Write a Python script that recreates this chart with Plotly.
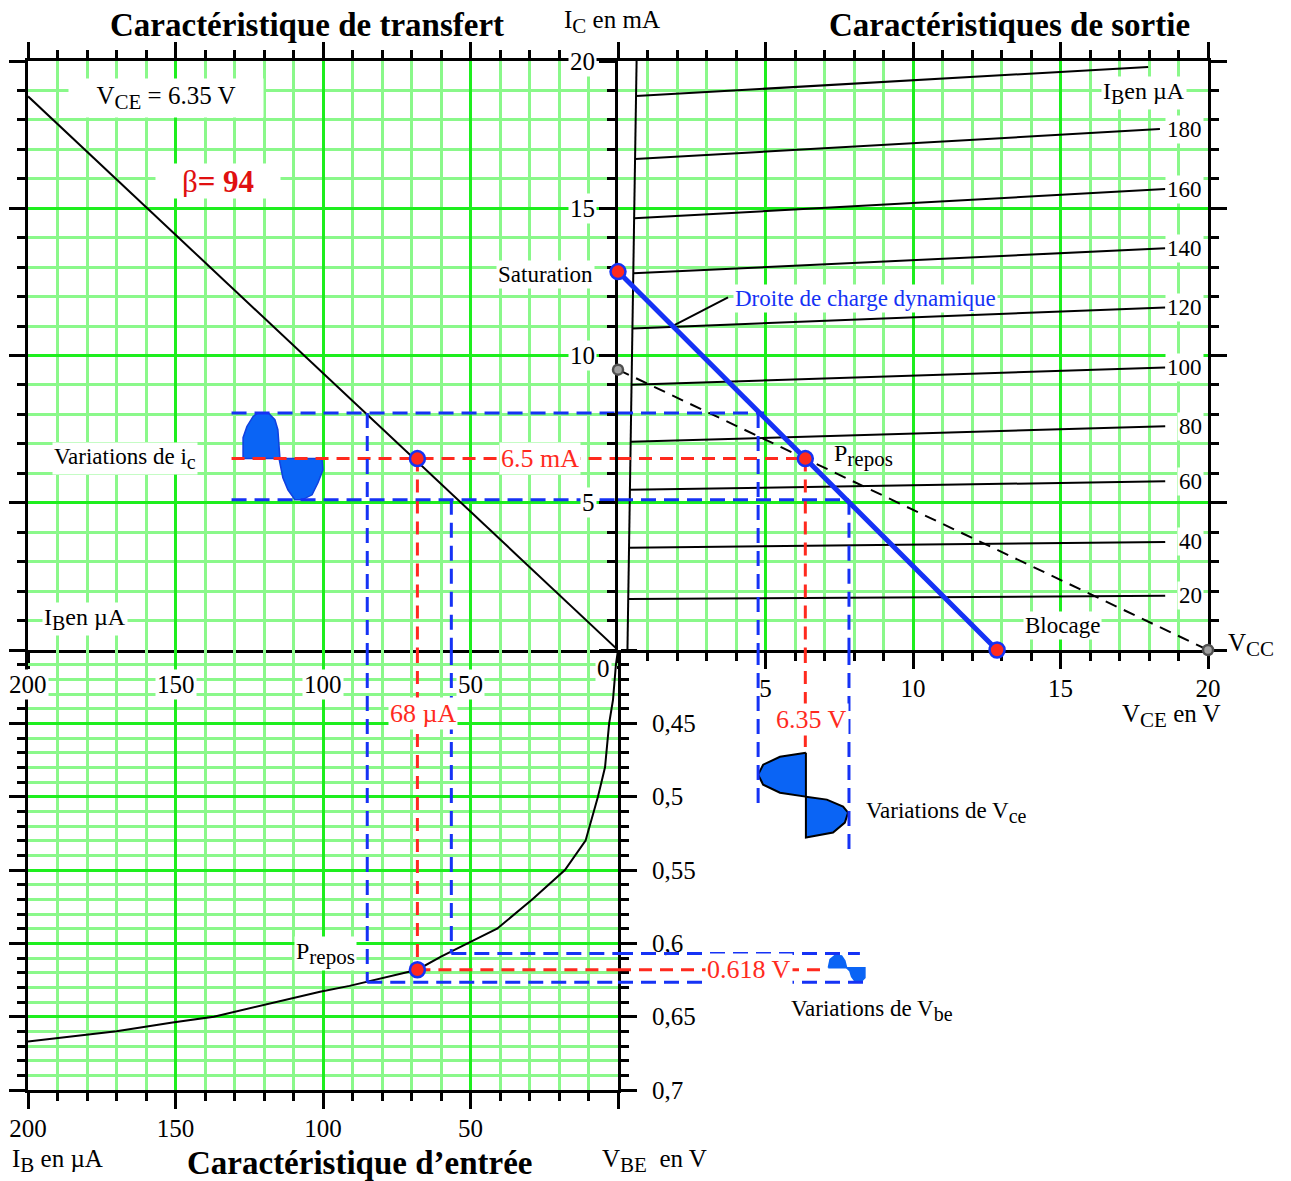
import plotly.graph_objects as go

W, H = 1291, 1181
FONT = "Liberation Serif"

# ---------------- data ----------------
# transfer characteristic  IC = beta * IB
ib_transfer = [0, 200]
ic_transfer = [0, 18.8]

# output characteristics (one straight line per IB value)
ib_curves = [20, 40, 60, 80, 100, 120, 140, 160, 180, 200]
vce_start = [0.34, 0.37, 0.40, 0.43, 0.46, 0.49, 0.52, 0.55, 0.58, 0.61]
ic_start = [1.73, 3.47, 5.44, 7.07, 9.01, 10.92, 12.79, 14.66, 16.67, 18.81]
vce_end = [18.55, 18.55, 18.55, 18.55, 18.55, 18.55, 18.55, 18.55, 18.37, 17.97]
ic_end = [1.84, 3.67, 5.73, 7.60, 9.59, 11.63, 13.64, 15.65, 17.69, 19.80]
curve_labels = ["20", "40", "60", "80", "100", "120", "140", "160", "180", ""]

vce_sat_line = [0.32, 0.63]
ic_sat_line = [0, 20]

# load lines
vce_dyn = [0, 6.35, 12.85]
ic_dyn = [12.85, 6.5, 0]
vce_stat = [0, 20]
ic_stat = [9.52, 0]

# input characteristic
ib_in = [0, 0.7, 1.7, 3, 4.4, 6.8, 11, 18, 29, 41, 50, 60, 68, 74, 91, 101, 119, 137, 151, 170, 200]
vbe_in = [0.40, 0.41, 0.434, 0.45, 0.48, 0.50, 0.53, 0.55, 0.57, 0.59, 0.599, 0.609, 0.618,
          0.621, 0.629, 0.633, 0.6415, 0.650, 0.654, 0.660, 0.667]

# quiescent point
ib_q, ic_q, vce_q, vbe_q = 68, 6.5, 6.35, 0.618
ic_hi, ic_lo = 8.05, 5.1
ib_hi, ib_lo = 85, 56.5
vce_lo, vce_hi = 4.75, 7.83
vbe_lo, vbe_hi = 0.607, 0.6265
ib_dash_start = 131

# waveforms
ic_wave_ib = [127.1, 127.1, 125.8, 123.7, 122, 118.6, 116.3, 115.3, 114.6, 127.1, None,
              114.9, 100.3, 100, 101.7, 103.7, 107.1, 109.5, 111.9, 113.6, 114.9]
ic_wave_ic = [6.5, 7.21, 7.59, 7.93, 8.06, 8.06, 7.82, 7.48, 6.5, 6.5, None,
              6.5, 6.5, 6.12, 5.68, 5.27, 5.1, 5.1, 5.44, 5.85, 6.5]

vce_wave_v = [6.37, 5.49, 4.92, 4.75, 4.92, 5.49, 6.37, 6.37, None,
              6.37, 7.08, 7.63, 7.80, 7.69, 7.29, 6.37, 6.37]
vce_wave_t = [0.470, 0.4728, 0.4782, 0.485, 0.4918, 0.4973, 0.500, 0.470, None,
              0.500, 0.502, 0.5068, 0.5109, 0.5177, 0.5245, 0.5279, 0.500]

vbe_wave_t = [7.13, 7.19, 7.36, 7.58, 7.69, 7.75, 7.13, None,
              7.75, 8.37, 8.37, 8.26, 8.03, 7.92, 7.86, 7.75]
vbe_wave_v = [0.6166, 0.6109, 0.6082, 0.6086, 0.612, 0.6166, 0.6166, None,
              0.6166, 0.6166, 0.6234, 0.6257, 0.6257, 0.6227, 0.6188, 0.6166]

ib_ticks = [200, 150, 100, 50]
vce_ticks = [5, 10, 15, 20]
ic_ticks = [20, 15, 10, 5]
vbe_tickvals = [0.4, 0.45, 0.5, 0.55, 0.6, 0.65, 0.7]
vbe_ticktext = ["", "0,45", "0,5", "0,55", "0,6", "0,65", "0,7"]

# ---------------- styles ----------------
MIN_G = "#8AF88A"
MAJ_G = "#1EEE1E"
RED = "#FF2A1E"
BLUE = "#1532F5"
WBLUE = "#0A64F5"

def px_x(p):
    return p / W

def px_y(p):
    return 1 - p / H

XL = [px_x(28), px_x(618)]
XR = [px_x(618), px_x(1208)]
YT = [px_y(650), px_y(61)]
YB = [px_y(1090), px_y(650)]

fig = go.Figure()

def add_line(x, y, xa, ya, color="black", width=2, dash=None, clip=True):
    fig.add_trace(go.Scatter(x=x, y=y, xaxis=xa, yaxis=ya, mode="lines",
                             line=dict(color=color, width=width, dash=dash),
                             hoverinfo="skip", cliponaxis=clip))

def join(segs):
    xs, ys = [], []
    for sx, sy in segs:
        if xs:
            xs.append(None); ys.append(None)
        xs += sx; ys += sy
    return xs, ys

# transfer line
add_line(ib_transfer, ic_transfer, "x", "y")
# output characteristics
add_line(vce_sat_line, ic_sat_line, "x2", "y2")
for i in range(len(ib_curves)):
    add_line([vce_start[i], vce_end[i]], [ic_start[i], ic_end[i]], "x2", "y2")
# input characteristic
add_line(ib_in, vbe_in, "x3", "y3")

# static load line (dashed)
add_line(vce_stat, ic_stat, "x2", "y2", color="black", width=2, dash="12px,8px")

# pointer of the dynamic load line label
add_line([1.83, 3.73], [10.99, 11.97], "x2", "y2", width=2)

# waveforms
fig.add_trace(go.Scatter(x=ic_wave_ib, y=ic_wave_ic, xaxis="x", yaxis="y", mode="lines",
                         fill="toself", fillcolor=WBLUE, line=dict(color="#1040E0", width=1.5),
                         hoverinfo="skip"))
fig.add_trace(go.Scatter(x=vce_wave_v, y=vce_wave_t, xaxis="x4", yaxis="y4", mode="lines",
                         fill="toself", fillcolor=WBLUE, line=dict(color="black", width=2),
                         hoverinfo="skip", cliponaxis=False))
fig.add_trace(go.Scatter(x=vbe_wave_t, y=vbe_wave_v, xaxis="x4", yaxis="y4", mode="lines",
                         fill="toself", fillcolor=WBLUE, line=dict(color=WBLUE, width=1.5),
                         hoverinfo="skip", cliponaxis=False))

RD = "13px,8px"
BD = "15px,8px"
# red dashed construction lines
x, y = join([([ib_dash_start, 0], [ic_q, ic_q]), ([ib_q, ib_q], [ic_q, 0])])
add_line(x, y, "x", "y", RED, 3, RD)
x, y = join([([0, vce_q], [ic_q, ic_q]), ([vce_q, vce_q], [ic_q, 0])])
add_line(x, y, "x2", "y2", RED, 3, RD)
x, y = join([([ib_q, ib_q], [0.4, vbe_q]), ([ib_q, 0], [vbe_q, vbe_q])])
add_line(x, y, "x3", "y3", RED, 3, RD)
x, y = join([([0, 7.1], [vbe_q, vbe_q]), ([vce_q, vce_q], [0.4, 0.47])])
add_line(x, y, "x4", "y4", RED, 3, RD)

# blue dashed construction lines
x, y = join([([ib_dash_start, 0], [ic_hi, ic_hi]), ([ib_dash_start, 0], [ic_lo, ic_lo]),
             ([ib_hi, ib_hi], [ic_hi, 0]), ([ib_lo, ib_lo], [ic_lo, 0])])
add_line(x, y, "x", "y", BLUE, 3, BD)
x, y = join([([0, vce_lo + 0.2], [ic_hi, ic_hi]), ([0, vce_hi], [ic_lo, ic_lo]),
             ([vce_lo, vce_lo], [ic_hi, 0]), ([vce_hi, vce_hi], [ic_lo, 0])])
add_line(x, y, "x2", "y2", BLUE, 3, BD)
x, y = join([([ib_hi, ib_hi], [0.4, vbe_hi]), ([ib_lo, ib_lo], [0.4, vbe_lo]),
             ([ib_hi, 0], [vbe_hi, vbe_hi]), ([ib_lo, 0], [vbe_lo, vbe_lo])])
add_line(x, y, "x3", "y3", BLUE, 3, BD)
x, y = join([([vce_lo, vce_lo], [0.4, 0.506]), ([vce_hi, vce_hi], [0.4, 0.536]),
             ([0, 8.37], [vbe_hi, vbe_hi]), ([0, 8.2], [vbe_lo, vbe_lo])])
add_line(x, y, "x4", "y4", BLUE, 3, BD)

# dynamic load line (thick blue)
add_line([vce_dyn[0], vce_dyn[2]], [ic_dyn[0], ic_dyn[2]], "x2", "y2", BLUE, 5)

# markers
def add_pts(x, y, xa, ya, fill, edge, size):
    fig.add_trace(go.Scatter(x=x, y=y, xaxis=xa, yaxis=ya, mode="markers",
                             marker=dict(color=fill, size=size, line=dict(color=edge, width=2.5)),
                             hoverinfo="skip", cliponaxis=False))

add_pts([vce_stat[0], vce_stat[1]], [ic_stat[0], ic_stat[1]], "x2", "y2", "#A0A0A0", "#505050", 10)
add_pts(vce_dyn, ic_dyn, "x2", "y2", RED, BLUE, 15)
add_pts([ib_q], [ic_q], "x", "y", RED, BLUE, 15)
add_pts([ib_q], [vbe_q], "x3", "y3", RED, BLUE, 15)

# ---------------- axes ----------------
TICKFONT = dict(family=FONT, size=25, color="black")

def tick_axis(**kw):
    d = dict(showline=True, linecolor="black", linewidth=3, ticks="outside", tickwidth=3,
             tickcolor="black", ticklen=16, zeroline=False, showgrid=True, gridcolor=MAJ_G,
             gridwidth=3, fixedrange=True, automargin=False, tickfont=TICKFONT)
    d.update(kw)
    return d

def minor(dt, t0):
    return dict(tickmode="linear", tick0=t0, dtick=dt, ticks="outside", ticklen=8, tickwidth=3,
                tickcolor="black", showgrid=True, gridcolor=MIN_G, gridwidth=3)

layout = dict(
    width=W, height=H, margin=dict(l=0, r=0, t=0, b=0, pad=0, autoexpand=False),
    paper_bgcolor="white", plot_bgcolor="white", showlegend=False,
    separators=", ",
    xaxis=tick_axis(domain=XL, range=[200, 0], anchor="y", side="bottom", mirror="ticks",
                    tickmode="linear", tick0=0, dtick=50, showticklabels=False,
                    minor=minor(10, 0)),
    yaxis=tick_axis(domain=YT, range=[0, 20], anchor="x", side="left",
                    tickmode="linear", tick0=0, dtick=5, showticklabels=False,
                    minor=minor(1, 0)),
    xaxis2=tick_axis(domain=XR, range=[0, 20], anchor="y2", side="bottom", mirror="ticks",
                     tickmode="array", tickvals=[0] + vce_ticks, ticktext=[""] + [str(v) for v in vce_ticks],
                     ticklabelstandoff=-2, minor=minor(1, 0), layer="below traces"),
    yaxis2=tick_axis(domain=YT, range=[0, 20], anchor="x2", side="left", mirror="ticks",
                     tickmode="linear", tick0=0, dtick=5, showticklabels=False,
                     minor=minor(1, 0), layer="below traces"),
    xaxis3=tick_axis(domain=XL, range=[200, 0], anchor="y3", side="bottom",
                     tickmode="array", tickvals=ib_ticks + [0], ticktext=[str(v) for v in ib_ticks] + [""],
                     ticklabelstandoff=-2, minor=minor(10, 0)),
    yaxis3=tick_axis(domain=YB, range=[0.7, 0.4], anchor="x3", side="right", mirror="ticks",
                     tickmode="array", tickvals=vbe_tickvals, ticktext=vbe_ticktext,
                     ticklabelstandoff=10, minor=minor(0.01, 0.4)),
    xaxis4=dict(domain=XR, range=[0, 20], anchor="y4", visible=False, fixedrange=True, automargin=False),
    yaxis4=dict(domain=YB, range=[0.7, 0.4], anchor="x4", visible=False, fixedrange=True, automargin=False),
)
fig.update_layout(**layout)

# ---------------- annotations ----------------
def sub(t, s):
    return '<sub><span style="font-size:%dpx">%s</span></sub>' % (s, t)

def A(text, x, y, size=23, color="black", xanchor="center", bg=None, xref="paper", yref="paper",
      width=None, height=None, align="center"):
    xx = px_x(x) if xref == "paper" else x
    yy = px_y(y) if yref == "paper" else y
    kw = dict(text=text, x=xx, y=yy, xref=xref, yref=yref, showarrow=False,
              font=dict(family=FONT, size=size, color=color), xanchor=xanchor, yanchor="middle",
              align=align, borderpad=1)
    if bg:
        kw["bgcolor"] = bg
    if width:
        kw["width"] = width
    if height:
        kw["height"] = height
    fig.add_annotation(**kw)

A("<b>Caractéristique de transfert</b>", 307, 25, size=33)
A("<b>Caractéristiques de sortie</b>", 1009, 25, size=33)
A("<b>Caractéristique d’entrée</b>", 359, 1163, size=33)
A("I" + sub("C", 21) + " en mA", 562, 22, size=25, xanchor="left")
A("V" + sub("CE", 21) + " en V", 1120, 716, size=25, xanchor="left")
A("V" + sub("BE", 21) + "  en V", 600, 1161, size=25, xanchor="left")
A("I" + sub("B", 21) + " en µA", 10, 1161, size=25, xanchor="left")
A("V" + sub("CC", 21), 1226, 645, size=25, xanchor="left")
A("0", 603, 668, size=25, bg="white")

A("V" + sub("CE", 21) + " = 6.35 V", 68, 98, size=25, xanchor="left", bg="white", width=192, height=36)
A("β<b>= 94</b>", 155, 181, size=31, color="#E01010", xanchor="left", bg="white", width=122, height=32)
A("Variations de i" + sub("c", 20), 52, 458, size=23, xanchor="left", bg="white")
A("I" + sub("B", 20) + "en µA", 42, 619, size=24, xanchor="left", bg="white")
A("I" + sub("B", 20) + "en µA", 1101, 93, size=24, xanchor="left", bg="white")
A("Saturation", 595, 274, size=23, xanchor="right", bg="white")
A("Droite de charge dynamique", 733, 298, size=23, color=BLUE, xanchor="left", bg="white")
A("P" + sub("repos", 21), 832, 456, size=24, xanchor="left")
A("P" + sub("repos", 21), 294, 954, size=24, xanchor="left", bg="white")
A("Blocage", 1062, 625, size=23, bg="white")
A("Variations de V" + sub("ce", 20), 864, 812, size=23, xanchor="left")
A("Variations de V" + sub("be", 20), 789, 1010, size=23, xanchor="left")

# tick labels with white background
for v in ib_ticks:
    A(str(v), v, 684, size=25, bg="white", xref="x")
for v in ic_ticks:
    A(str(v), 597, v, size=25, xanchor="right", bg="white", yref="y2")

# curve labels of the output characteristics
for lab, ye in zip(curve_labels, ic_end):
    if lab:
        A(lab, 19.85, ye, size=23, xanchor="right", bg="white", xref="x2", yref="y2")

# values at the quiescent point
A("6.5 mA", 26.5, ic_q, size=26, color=RED, bg="white", xref="x", yref="y")
A("68 µA", 66, 0.443, size=26, color=RED, bg="white", xref="x3", yref="y3")
A("6.35 V", 6.55, 0.4476, size=26, color=RED, bg="white", xref="x4", yref="y4")
A("0.618 V", 4.45, vbe_q, size=26, color=RED, bg="white", xref="x4", yref="y4")

fig.write_html("out.html")
